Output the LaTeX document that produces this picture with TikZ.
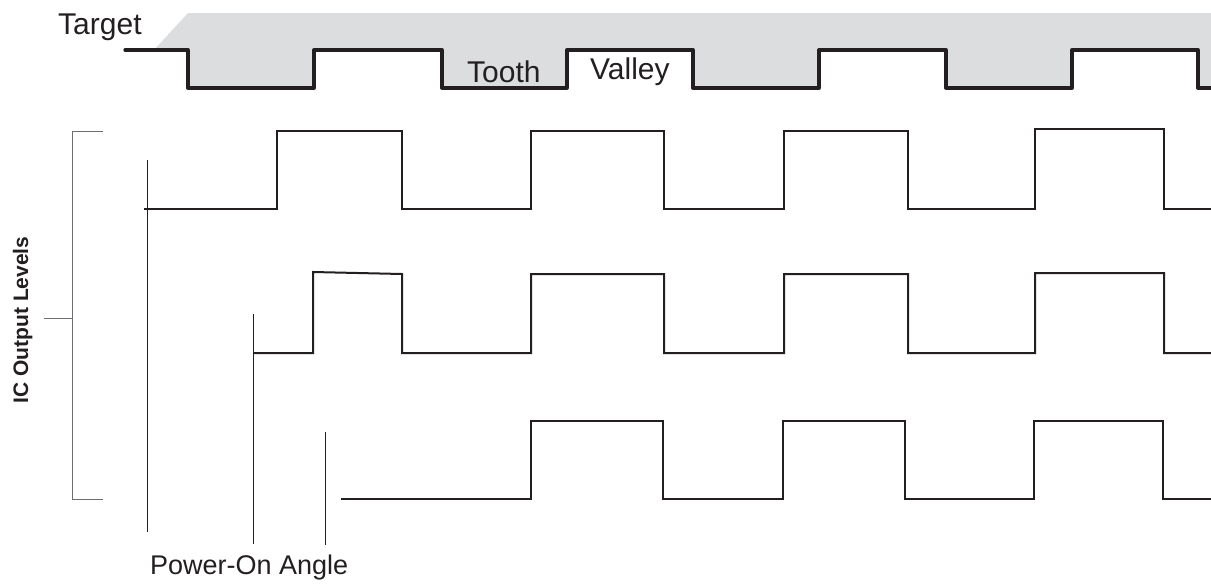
\documentclass[tikz,border=0pt]{standalone}
\usepackage{fontspec}
\setmainfont{Liberation Sans}
\definecolor{toothgray}{HTML}{DCDDDF}
\definecolor{ink}{HTML}{231F20}
\definecolor{bracketgray}{HTML}{6D6E71}
\begin{document}
\begin{tikzpicture}[x=1pt,y=-1pt,
  targetwave/.style={draw=ink,line width=3.3pt,line join=round,line cap=round},
  icwave/.style={draw=ink,line width=2pt,line join=miter},
  poweron/.style={draw=ink,line width=1pt},
  bracketline/.style={draw=bracketgray,line width=1pt},
  bigtext/.style={font=\fontsize{30}{36}\selectfont,text=ink,inner sep=0pt,anchor=base west},
  angletext/.style={font=\fontsize{27}{32}\selectfont,text=ink,inner sep=0pt,anchor=base west},
  axistext/.style={font=\fontsize{21}{25}\selectfont\bfseries,text=ink,inner sep=0pt,anchor=base,rotate=90}]
\useasboundingbox (0,0) rectangle (1211,584);
\clip (0,0) rectangle (1211,584);
% gray target profile
\fill[toothgray] (154,50) -- (188,13) -- (1211,13) -- (1211,88) -- (1198,88) -- (1198,50)
  -- (1072,50) -- (1072,88) -- (946,88) -- (946,50) -- (819,50) -- (819,88)
  -- (693,88) -- (693,50) -- (567,50) -- (567,88) -- (442,88) -- (442,50)
  -- (314,50) -- (314,88) -- (188,88) -- (188,50) -- cycle;
% target waveform
\draw[targetwave] (125,50) -- (188,50) -- (188,88) -- (314,88) -- (314,50) -- (442,50)
  -- (442,88) -- (567,88) -- (567,50) -- (693,50) -- (693,88) -- (819,88)
  -- (819,50) -- (946,50) -- (946,88) -- (1072,88) -- (1072,50) -- (1198,50)
  -- (1198,88) -- (1215,88);
\node[bigtext] (target) at (58,34) {Target};
\node[bigtext] (tooth) at (467,82) {Tooth};
\node[bigtext] (valley) at (590,79) {Valley};
% IC output waveforms
\draw[icwave] (144,209) -- (277,209) -- (277,131) -- (402,131) -- (402,209) -- (531,209)
  -- (531,131) -- (664,131) -- (664,209) -- (784,209) -- (784,131) -- (908,131)
  -- (908,209) -- (1035,209) -- (1035,129) -- (1164,129) -- (1164,209) -- (1215,209);
\draw[icwave] (253,353) -- (313,353) -- (313,272) -- (402,274) -- (402,353) -- (531,353)
  -- (531,274) -- (664,274) -- (664,353) -- (784,353) -- (784,274) -- (908,274)
  -- (908,353) -- (1035,353) -- (1035,273) -- (1164,273) -- (1164,353) -- (1215,353);
\draw[icwave] (341,499) -- (531,499) -- (531,421) -- (663,421) -- (663,499) -- (783,499)
  -- (783,421) -- (905,421) -- (905,499) -- (1034,499) -- (1034,421) -- (1163,421)
  -- (1163,499) -- (1215,499);
% power-on angle markers
\draw[poweron] (147,160) -- (147,532);
\draw[poweron] (253,314) -- (253,544);
\draw[poweron] (325,432) -- (325,545);
\node[angletext] (angle) at (150,574) {Power-On Angle};
% bracket
\draw[bracketline] (103,131) -- (72,131) -- (72,499) -- (103,499);
\draw[bracketline] (44,318) -- (72,318);
\node[axistext] (levels) at (28,320) {IC Output Levels};
\end{tikzpicture}
\end{document}
